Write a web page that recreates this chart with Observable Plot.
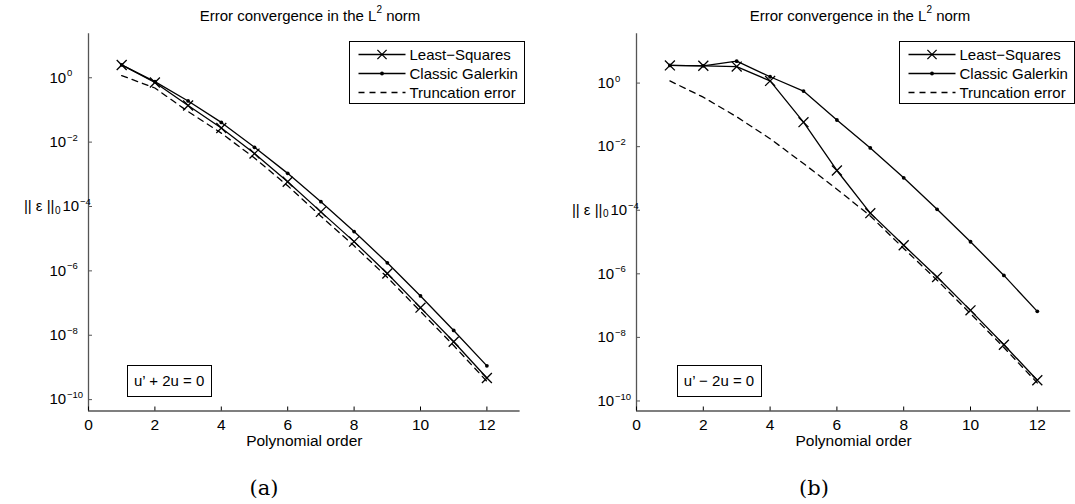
<!DOCTYPE html>
<html><head><meta charset="utf-8">
<script src="https://cdn.jsdelivr.net/npm/d3@7"></script>
<script src="https://cdn.jsdelivr.net/npm/@observablehq/plot@0.6"></script>
<style>
html,body{margin:0;padding:0;background:#fff;overflow:hidden;}
#fig{position:relative;width:1075px;height:504px;overflow:hidden;font-family:"Liberation Sans",Arial,Helvetica,sans-serif;color:#000;background:#fff;}
.panel{position:absolute;top:0;width:550px;height:504px;}
.panel svg{position:absolute;left:0;top:0;overflow:visible;}
.title{position:absolute;width:400px;top:4px;font-size:15px;line-height:15px;text-align:center;white-space:nowrap;}
.title sup{font-size:10px;position:relative;top:-2px;}
.legend{position:absolute;top:41px;width:176px;height:63px;box-sizing:border-box;border:1px solid #000;background:#fff;}
.legend svg{position:absolute;left:-1px;top:-1px;}
.eq{position:absolute;top:365px;width:85px;height:32px;box-sizing:border-box;border:1px solid #000;font-size:15px;line-height:30px;text-align:center;white-space:nowrap;background:#fff;}
.cap{position:absolute;width:100px;top:476px;font-family:"DejaVu Serif","Liberation Serif",serif;font-size:21px;line-height:24px;text-align:center;}
</style></head>
<body>
<div id="fig"></div>
<script>
// Polynomial order (x values)
const orders = [1,2,3,4,5,6,7,8,9,10,11,12];
// Panel (a): u' + 2u = 0
const lsA  = [2.5, 0.71, 0.138, 2.75e-2, 4.4e-3, 5.9e-4, 6.8e-5, 8.1e-6, 8.3e-7, 7.2e-8, 6.3e-9, 4.7e-10];
const galA = [2.5, 0.76, 0.19, 4.1e-2, 6.9e-3, 1.07e-3, 1.41e-4, 1.66e-5, 1.78e-6, 1.66e-7, 1.41e-8, 1.12e-9];
const trA  = [1.17, 0.48, 8.9e-2, 1.9e-2, 3.2e-3, 4.4e-4, 5.0e-5, 6.0e-6, 6.3e-7, 5.5e-8, 4.8e-9, 3.7e-10];
// Panel (b): u' - 2u = 0
const lsB  = [3.6, 3.5, 3.3, 1.17, 5.9e-2, 1.78e-3, 8.1e-5, 7.9e-6, 7.9e-7, 7.1e-8, 5.9e-9, 4.5e-10];
const galB = [3.6, 3.5, 4.9, 1.58, 0.56, 6.9e-2, 9.1e-3, 1.05e-3, 1.07e-4, 1.02e-5, 8.9e-7, 6.6e-8];
const trB  = [1.17, 0.36, 8.7e-2, 1.78e-2, 2.95e-3, 4.6e-4, 6.6e-5, 6.3e-6, 6.3e-7, 5.6e-8, 4.8e-9, 3.7e-10];
// Axis ticks / limits
const xTicks = [0,2,4,6,8,10,12];
const xDom = [0, 13];
const yTickExps = [0,-2,-4,-6,-8,-10];
const yDomA = [4.43e-11, 23.2];
const yDomB = [4.84e-11, 35.5];
const seriesNames = ["Least\u2212Squares", "Classic Galerkin", "Truncation error"];
const titleText = "Error convergence in the L";
const xLabel = "Polynomial order";
const yLabel = "|| \u03b5 ||";
const eqA = "u\u2019 + 2u = 0", eqB = "u\u2019 \u2212 2u = 0";

const FONT = '"Liberation Sans", Arial, Helvetica, sans-serif';
const supStr = e => (e < 0 ? "\u2212" : "") + Math.abs(e);
const LW = 1.3;

function makePanel(cfg, ls, gal, tr, yDom, eq, cap) {
  const ptsLS = orders.map((x,i)=>({x, y: ls[i]}));
  const ptsG  = orders.map((x,i)=>({x, y: gal[i]}));
  const ptsT  = orders.map((x,i)=>({x, y: tr[i]}));
  const yTicks = yTickExps.map(e => Math.pow(10, e));
  const normalTicks = yTicks.filter(t => t !== 1e-4);
  const W = 550, H = 504, mL = 88, mT = 33.3, mB = 93.5;
  const fw = cfg.fw, mR = W - mL - fw, fh = H - mT - mB;
  const base = {tickSize: 0, tickPadding: 0, textAnchor: "start", fontSize: 15, label: null};
  const expo = {tickSize: 0, tickPadding: 0, textAnchor: "start", fontSize: 9.5, label: null, dy: -4.5};
  const svg = Plot.plot({
    width: W, height: H,
    marginLeft: mL, marginRight: mR, marginTop: mT, marginBottom: mB,
    x: {domain: xDom, axis: null},
    y: {type: "log", domain: yDom, axis: null},
    style: {fontFamily: FONT, fontSize: "15px", color: "#000", background: "transparent", overflow: "visible"},
    marks: [
      Plot.ruleX([0], {stroke: "#555", strokeWidth: 1.3}),
      Plot.ruleY([yDom[0]], {stroke: "#000", strokeWidth: 1.1}),
      Plot.tickY(yTicks, {y: d => d, insetRight: fw - 4, stroke: "#555"}),
      Plot.tickX(xTicks, {x: d => d, insetTop: fh - 4, stroke: "#000"}),
      Plot.axisX(xTicks, {tickSize: 0, tickPadding: 8, fontSize: 15.5, label: null, tickFormat: d => String(d)}),
      Plot.axisY(normalTicks, {...base, dx: -39, tickFormat: () => "10"}),
      Plot.axisY(normalTicks, {...expo, dx: -21.6, tickFormat: d => supStr(Math.round(Math.log10(d)))}),
      Plot.axisY([1e-4], {...base, dx: -26, tickFormat: () => "10"}),
      Plot.axisY([1e-4], {...expo, dx: -8.6, tickFormat: d => supStr(Math.round(Math.log10(d)))}),
      Plot.text([1e-4], {y: d => d, text: () => yLabel, frameAnchor: "left", textAnchor: "end", dx: -34, fontSize: 15}),
      Plot.text([1e-4], {y: d => d, text: () => "0", frameAnchor: "left", textAnchor: "end", dx: -28, dy: 4, fontSize: 10}),
      Plot.text([xLabel], {text: d => d, frameAnchor: "bottom", dy: 35, fontSize: 15.5}),
      Plot.line(ptsT, {x: "x", y: "y", stroke: "#000", strokeWidth: LW, strokeDasharray: "6,5"}),
      Plot.line(ptsG, {x: "x", y: "y", stroke: "#000", strokeWidth: LW}),
      Plot.line(ptsLS, {x: "x", y: "y", stroke: "#000", strokeWidth: LW}),
      Plot.dot(ptsG, {x: "x", y: "y", r: 1.9, fill: "#000", stroke: null}),
      Plot.dot(ptsLS, {x: "x", y: "y", symbol: "times", r: 4.6, stroke: "#000", strokeWidth: 1.3})
    ]
  });
  const div = document.createElement("div");
  div.className = "panel";
  div.style.left = cfg.left + "px";
  div.appendChild(svg);
  const t = document.createElement("div");
  t.className = "title";
  t.style.left = (cfg.titleC - 200) + "px";
  t.innerHTML = titleText + "<sup>2</sup> norm";
  div.appendChild(t);
  // legend
  const lg = document.createElement("div");
  lg.className = "legend";
  lg.style.left = cfg.legL + "px";
  const lw = 176, lh = 63;
  const rowsY = [13.5, 32.5, 51.5];
  const ns = "http://www.w3.org/2000/svg";
  const ls2 = document.createElementNS(ns, "svg");
  ls2.setAttribute("width", lw); ls2.setAttribute("height", lh);
  let s = "";
  rowsY.forEach((ry, i) => {
    s += `<line x1="9.5" x2="56.5" y1="${ry}" y2="${ry}" stroke="#000" stroke-width="${LW}" ${i===2?'stroke-dasharray="6,5"':''}/>`;
    if (i === 0) s += `<path d="M${33-4.6},${ry-4.6}L${33+4.6},${ry+4.6}M${33-4.6},${ry+4.6}L${33+4.6},${ry-4.6}" stroke="#000" stroke-width="1.3"/>`;
    if (i === 1) s += `<circle cx="33" cy="${ry}" r="1.9" fill="#000"/>`;
    s += `<text x="60.5" y="${ry}" dy="0.35em" font-size="15" font-family='${FONT}'>${seriesNames[i]}</text>`;
  });
  ls2.innerHTML = s;
  lg.appendChild(ls2);
  div.appendChild(lg);
  const e = document.createElement("div");
  e.className = "eq"; e.textContent = eq;
  e.style.left = cfg.eqL + "px";
  div.appendChild(e);
  const c = document.createElement("div");
  c.className = "cap"; c.textContent = cap;
  c.style.left = (cfg.capC - 50) + "px";
  div.appendChild(c);
  document.getElementById("fig").appendChild(div);
}
makePanel({left: 0, fw: 431.6, titleC: 310, legL: 348.5, eqL: 126.7, capC: 264}, lsA, galA, trA, yDomA, eqA, "(a)");
makePanel({left: 548, fw: 434.2, titleC: 312, legL: 350.5, eqL: 128.5, capC: 266}, lsB, galB, trB, yDomB, eqB, "(b)");
</script>
</body></html>
